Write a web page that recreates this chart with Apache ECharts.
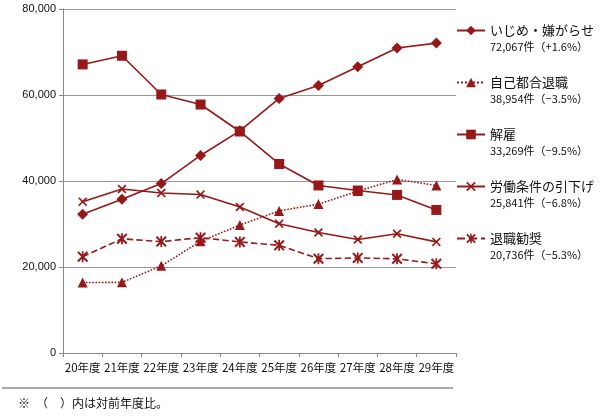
<!DOCTYPE html>
<html><head><meta charset="utf-8">
<script src="https://cdn.jsdelivr.net/npm/echarts@6/dist/echarts.min.js"></script>
<style>html,body{margin:0;padding:0;background:#fff}#c{width:600px;height:416px}</style>
</head><body><div id="c"></div>
<script>
const categories = ['20年度','21年度','22年度','23年度','24年度','25年度','26年度','27年度','28年度','29年度'];
const seriesNames = ['いじめ・嫌がらせ','自己都合退職','解雇','労働条件の引下げ','退職勧奨'];
const legendDetails = ['72,067件（+1.6%）','38,954件（−3.5%）','33,269件（−9.5%）','25,841件（−6.8%）','20,736件（−5.3%）'];
const bullying    = [32242,35759,39405,45939,51670,59197,62191,66566,70917,72067];
const voluntary   = [16400,16425,20265,25966,29763,33049,34626,37648,40364,38954];
const dismissal   = [67114,69121,60118,57785,51515,43956,38966,37787,36760,33269];
const conditions  = [35200,38131,37210,36849,33955,30067,28015,26392,27723,25841];
const encouraged  = [22400,26558,25902,26828,25838,25041,21928,22110,21901,20736];
const yTicks = { min: 0, max: 80000, interval: 20000 };

const RED = '#971818';
const crossPath = 'path://M0,1.3L1.3,0L5,3.7L8.7,0L10,1.3L6.3,5L10,8.7L8.7,10L5,6.3L1.3,10L0,8.7L3.7,5Z';
const starPath = 'path://M0,1.3L1.3,0L5,3.7L8.7,0L10,1.3L6.3,5L10,8.7L8.7,10L5,6.3L1.3,10L0,8.7L3.7,5Z M4.2,0L5.8,0L5.8,10L4.2,10Z';
const dataSets = [bullying, voluntary, dismissal, conditions, encouraged];
const styles = [
  {symbol:'diamond', size:11, type:'solid'},
  {symbol:'triangle', size:10, type:'dotted'},
  {symbol:'rect', size:10, type:'solid'},
  {symbol:crossPath, size:9, type:'solid'},
  {symbol:starPath, size:11, type:'dashed'}
];
const chart = echarts.init(document.getElementById('c'), null, {renderer:'canvas'});
const FONT = '"Noto Sans CJK JP", "Noto Sans", sans-serif';
chart.setOption({
  animation: false,
  textStyle: { fontFamily: FONT },
  grid: { left: 63, right: 144, top: 9, bottom: 63 },
  xAxis: {
    type: 'category', data: categories, boundaryGap: true,
    axisLine: { lineStyle: { color: '#888' } },
    axisTick: { show: true, lineStyle: { color: '#888' }, length: 4 },
    axisLabel: { color: '#111', fontSize: 11.5, fontFamily: FONT, margin: 9, interval: 0 }
  },
  yAxis: {
    type: 'value', min: yTicks.min, max: yTicks.max, interval: yTicks.interval,
    axisLine: { show: true, lineStyle: { color: '#888' } },
    axisTick: { show: true, length: 4, lineStyle: { color: '#888' } },
    splitLine: { lineStyle: { color: '#999', width: 1 } },
    axisLabel: { color: '#111', fontSize: 11, fontFamily: 'Liberation Sans, Arial, sans-serif', margin: 7,
      formatter: v => v.toLocaleString('en-US') }
  },
  legend: {
    orient: 'vertical', left: 451, top: 19, itemWidth: 28, itemHeight: 12, itemGap: 24,
    data: seriesNames,
    formatter: name => '{a|' + name + '}\n{b|' + legendDetails[seriesNames.indexOf(name)] + '}',
    textStyle: {
      padding: [16, 0, 0, 0],
      rich: {
        a: { fontSize: 13, lineHeight: 16, color: '#111', fontFamily: FONT },
        b: { fontSize: 11, lineHeight: 16, color: '#111', fontFamily: FONT }
      }
    }
  },
  series: seriesNames.map((n, i) => ({
    name: n, type: 'line', data: dataSets[i],
    symbol: styles[i].symbol, symbolSize: styles[i].size,
    lineStyle: { color: RED, width: 1.6, type: styles[i].type },
    itemStyle: { color: RED, borderWidth: 0 },
    emphasis: { disabled: true }
  })),
  graphic: [
    { type: 'line', shape: { x1: 2, y1: 388, x2: 453, y2: 388 }, style: { stroke: '#555', lineWidth: 1 } },
    { type: 'text', left: 18, top: 397, style: { text: '※　（　）内は対前年度比。', fontSize: 12, fill: '#111', fontFamily: FONT } }
  ]
});
</script></body></html>
